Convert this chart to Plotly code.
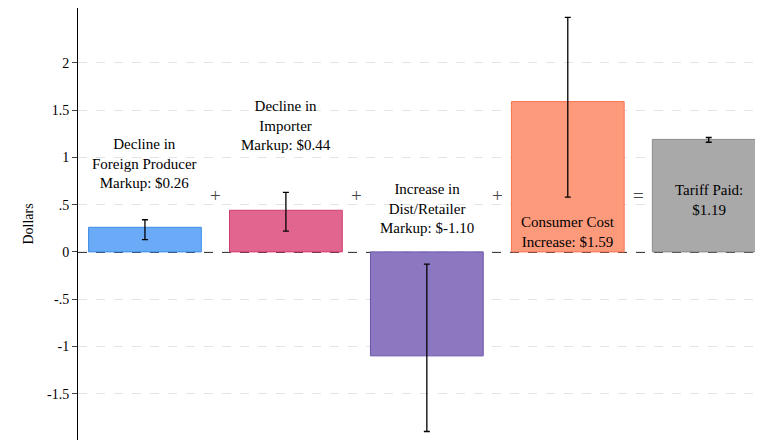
import plotly.graph_objects as go

cats = [1, 2, 3, 4, 5]
values = [0.26, 0.44, -1.10, 1.59, 1.19]
err_hi = [0.34, 0.63, -0.13, 2.48, 1.21]
err_lo = [0.13, 0.22, -1.90, 0.58, 1.16]
labels = ["Decline in<br>Foreign Producer<br>Markup: $0.26",
          "Decline in<br>Importer<br>Markup: $0.44",
          "Increase in<br>Dist/Retailer<br>Markup: $-1.10",
          "Consumer Cost<br>Increase: $1.59",
          "Tariff Paid:<br>$1.19"]
label_y = [0.62, 1.02, 0.15, -0.0, 0.34]
fills = ["#6aaaf7", "#e0668f", "#8c78c0", "#fd9a7c", "#a9a9a9"]
lines = ["#3d8ee8", "#d03c70", "#6a55a8", "#f87450", "#8a8a8a"]
ops = ["+", "+", "+", "="]
ops_x = [1.5, 2.5, 3.5, 4.5]
ops_y = [0.6, 0.6, 0.6, 0.6]

font = "Liberation Serif, Times New Roman, Times, serif"
fig = go.Figure()
fig.add_shape(type="line", xref="paper", x0=0, x1=1, y0=0, y1=0,
              line=dict(color="black", width=1.5, dash="dash"), layer="below")
fig.add_trace(go.Bar(
    x=cats, y=values, width=0.8,
    marker=dict(color=fills, line=dict(color=lines, width=1)),
    error_y=dict(type="data", symmetric=False,
                 array=[h - v for h, v in zip(err_hi, values)],
                 arrayminus=[v - l for l, v in zip(err_lo, values)],
                 color="black", thickness=1.3, width=3),
    showlegend=False, hoverinfo="skip"))
for x, t, y in zip(cats, labels, label_y):
    fig.add_annotation(x=x, y=y, text=t, showarrow=False, yanchor="bottom",
                       font=dict(family=font, size=15, color="black"))
for x, o, y in zip(ops_x, ops, ops_y):
    fig.add_annotation(x=x, y=y, text=o, showarrow=False,
                       font=dict(family=font, size=19, color="#444"))
fig.update_layout(
    width=755, height=432, margin=dict(l=70, r=0, t=0, b=0, autoexpand=False),
    plot_bgcolor="white", paper_bgcolor="white",
    font=dict(family=font, size=14, color="black"),
    bargap=0.2)
fig.update_xaxes(range=[0.525, 5.385], showticklabels=False, showgrid=False,
                 zeroline=False, ticks="", automargin=False)
fig.update_yaxes(range=[-1.99, 2.58], tickvals=[-1.5, -1, -0.5, 0, 0.5, 1, 1.5, 2],
                 ticktext=["-1.5", "-1", "-.5", "0", ".5", "1", "1.5", "2"],
                 showgrid=True, gridcolor="#e4e4e4", griddash="dash", zeroline=False,
                 showline=True, linecolor="black", ticks="outside", ticklen=5,
                 automargin=False, tickfont=dict(family=font, size=14),
                 title=dict(text="Dollars", standoff=10, font=dict(family=font, size=14)))
fig.write_html("out.html")
